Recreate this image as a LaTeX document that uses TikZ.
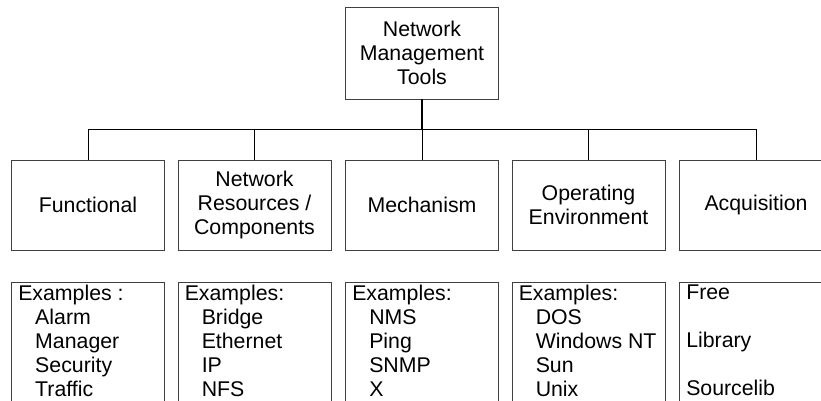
\documentclass[tikz,border=0pt]{standalone}
\usepackage{fontspec}
\setmainfont{Liberation Sans}
\newcommand{\ind}{\hspace*{17pt}}
\begin{document}
\begin{tikzpicture}[x=1pt,y=-1pt,
  every node/.style={font=\fontsize{21.3}{24}\selectfont},
  box/.style={draw=black!75,line width=0.9pt,minimum width=153pt,
    minimum height=90pt,align=center,inner sep=2pt},
  exbox/.style={box,anchor=north,minimum height=140pt},
  list/.style={anchor=north west,align=left,inner xsep=7pt,inner ysep=3pt},
  link/.style={line width=1pt}]
  \path[use as bounding box,clip] (0,0) rectangle (821,400);
  % top
  \node[box,minimum height=92pt] (root) at (422,53) {Network\\Management\\Tools};
  \coordinate (bus) at (422,129);
  % categories
  \node[box] (func) at (88,205) {Functional};
  \node[box] (res)  at (254.5,205) {Network\\Resources /\\Components};
  \node[box] (mech) at (422,205) {Mechanism};
  \node[box] (env)  at (588.5,205) {Operating\\Environment};
  \node[box] (acq)  at (756,205) {Acquisition};
  \draw[line width=2pt] (root.south) -- (bus);
  \draw[link] (func.north) -- (func.north |- bus) -- (acq.north |- bus) -- (acq.north);
  \foreach \n in {res,mech,env}
    \draw[link] (\n.north) -- (\n.north |- bus);
  % examples
  \node[exbox] (funcex) at (88,282) {};
  \node[exbox] (resex)  at (254.5,282) {};
  \node[exbox] (mechex) at (422,282) {};
  \node[exbox] (envex)  at (588.5,282) {};
  \node[exbox] (acqex)  at (756,282) {};
  \node[list] (funcls) at (funcex.north west)
    {Examples :\\\ind Alarm\\\ind Manager\\\ind Security\\\ind Traffic};
  \node[list] (resls) at (resex.north west)
    {Examples:\\\ind Bridge\\\ind Ethernet\\\ind IP\\\ind NFS};
  \node[list] (mechls) at (mechex.north west)
    {Examples:\\\ind NMS\\\ind Ping\\\ind SNMP\\\ind X};
  \node[list] (envls) at (envex.north west)
    {Examples:\\\ind DOS\\\ind Windows NT\\\ind Sun\\\ind Unix};
  \node[list] (acqls) at (acqex.north west)
    {Free\\[24pt]Library\\[24pt]Sourcelib};
\end{tikzpicture}
\end{document}
